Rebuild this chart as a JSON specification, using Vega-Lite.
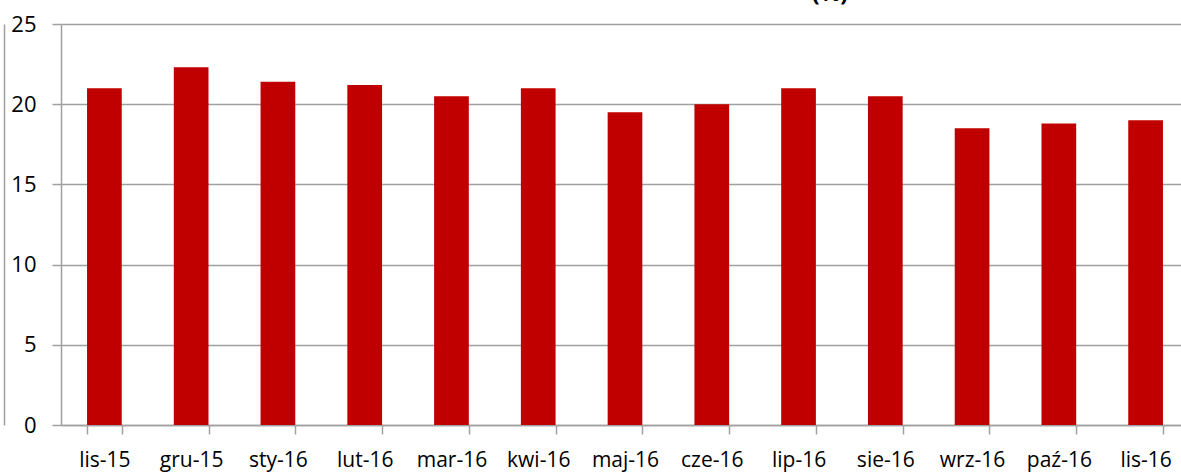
{
  "$schema": "https://vega.github.io/schema/vega-lite/v6.json",
  "autosize": {"type": "none"},
  "padding": {"left": 61, "top": 24, "right": 0, "bottom": 49},
  "width": 1128,
  "height": 401,
  "background": "white",
  "title": {"text": "(%)", "fontSize": 23, "fontWeight": "bold", "font": "Open Sans", "color": "black", "anchor": "middle", "dx": 205, "dy": -1, "offset": 6},
  "data": {"values": [
    {"month": "lis-15", "value": 21.0},
    {"month": "gru-15", "value": 22.3},
    {"month": "sty-16", "value": 21.4},
    {"month": "lut-16", "value": 21.2},
    {"month": "mar-16", "value": 20.5},
    {"month": "kwi-16", "value": 21.0},
    {"month": "maj-16", "value": 19.5},
    {"month": "cze-16", "value": 20.0},
    {"month": "lip-16", "value": 21.0},
    {"month": "sie-16", "value": 20.5},
    {"month": "wrz-16", "value": 18.5},
    {"month": "paź-16", "value": 18.8},
    {"month": "lis-16", "value": 19.0}
  ]},
  "encoding": {
    "x": {"field": "month", "type": "nominal", "sort": null,
      "scale": {"paddingInner": 0.6, "paddingOuter": 0.3},
      "axis": {"title": null, "labelAngle": 0, "tickBand": "extent", "labelFont": "Open Sans", "labelFontSize": 21, "labelColor": "black", "labelPadding": 15, "tickSize": 9, "tickColor": "#A0A0A0", "domainColor": "#A0A0A0", "domainWidth": 1.5, "tickWidth": 1.5, "grid": false}}
  },
  "layer": [
    {
      "mark": {"type": "bar", "color": "#C00000"},
      "encoding": {
        "y": {"field": "value", "type": "quantitative",
          "scale": {"domain": [0, 25]},
          "axis": {"title": null, "values": [0, 5, 10, 15, 20, 25], "labelFont": "Open Sans", "labelFontSize": 22, "labelColor": "black", "labelPadding": 16, "tickSize": 9, "tickColor": "#A0A0A0", "domainColor": "#A0A0A0", "domainWidth": 1.5, "tickWidth": 1.5, "gridColor": "#A0A0A0", "gridWidth": 1.5}}
      }
    },
    {
      "mark": {"type": "bar", "opacity": 0},
      "encoding": {
        "y": {"field": "value", "type": "quantitative",
          "scale": {"domain": [0, 25]},
          "axis": {"orient": "left", "offset": 57, "title": null, "labels": false, "ticks": false, "grid": false, "domainColor": "#A0A0A0", "domainWidth": 1.5}}
      }
    }
  ],
  "resolve": {"scale": {"y": "independent"}},
  "config": {"view": {"stroke": null}}
}
